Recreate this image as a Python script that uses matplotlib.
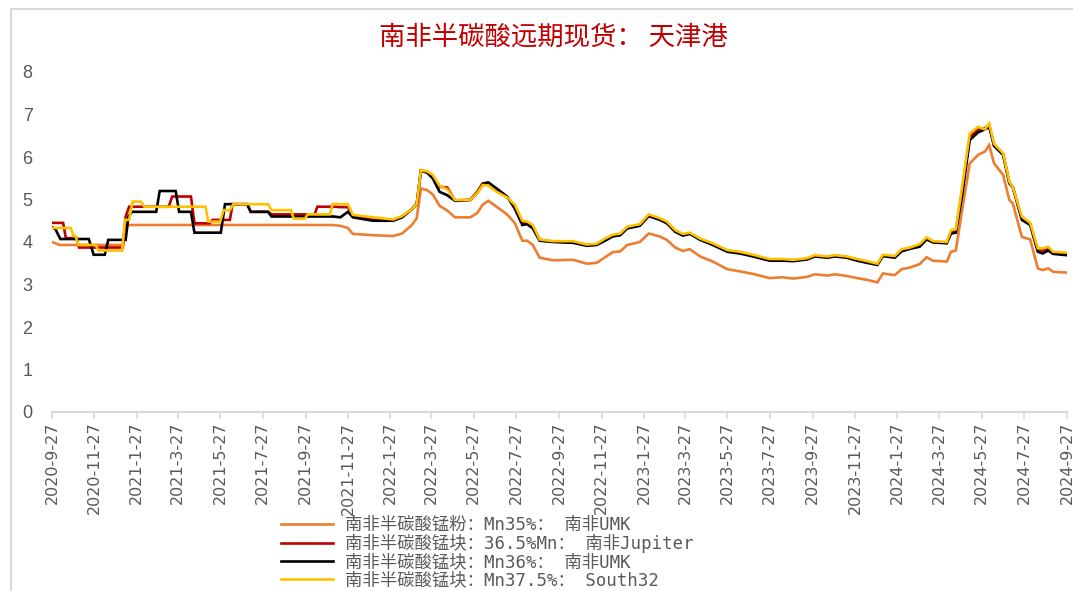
import matplotlib
matplotlib.use("Agg")
import matplotlib.pyplot as plt
from matplotlib.patches import Rectangle
from matplotlib.lines import Line2D
import pandas as pd

plt.rcParams['font.family'] = ['Noto Sans CJK SC', 'DejaVu Sans']

title = "南非半碳酸远期现货： 天津港"
labels = ["南非半碳酸锰粉：Mn35%： 南非UMK",
          "南非半碳酸锰块：36.5%Mn： 南非Jupiter",
          "南非半碳酸锰块：Mn36%： 南非UMK",
          "南非半碳酸锰块：Mn37.5%： South32"]
colors = ["#ED7D31", "#C00000", "#000000", "#FFC000"]

# step-like early period, each series has its own change dates
powder_umk_early_dates = ["2020-09-27", "2020-10-08", "2021-01-07", "2021-01-14", "2021-11-05"]
powder_umk_early = [4.00, 3.93, 3.93, 4.40, 4.40]

jupiter_early_dates = ["2020-09-27", "2020-10-13", "2020-10-17", "2020-11-01", "2020-11-05",
                       "2021-01-07", "2021-01-11", "2021-01-16", "2021-03-14", "2021-03-19",
                       "2021-04-15", "2021-04-20", "2021-05-12", "2021-05-16", "2021-06-10",
                       "2021-06-14", "2021-07-05", "2021-07-10", "2021-08-04", "2021-08-09",
                       "2021-10-10", "2021-10-14", "2021-11-10"]
jupiter_early = [4.45, 4.45, 4.09, 4.09, 3.87,
                 3.87, 4.60, 4.83, 4.83, 5.07,
                 5.07, 4.44, 4.44, 4.52, 4.52,
                 4.89, 4.89, 4.71, 4.71, 4.65,
                 4.65, 4.83, 4.83]

lump_umk_early_dates = ["2020-09-27", "2020-10-02", "2020-10-09", "2020-11-19", "2020-11-26",
                        "2020-12-12", "2020-12-17", "2021-01-11", "2021-01-15", "2021-01-20",
                        "2021-02-24", "2021-03-01", "2021-03-24", "2021-03-29", "2021-04-15",
                        "2021-04-20", "2021-05-28", "2021-06-03", "2021-07-05", "2021-07-10",
                        "2021-08-04", "2021-08-09", "2021-11-06"]
lump_umk_early = [4.35, 4.30, 4.07, 4.07, 3.70,
                  3.70, 4.05, 4.05, 4.60, 4.71,
                  4.71, 5.20, 5.20, 4.71, 4.71,
                  4.22, 4.22, 4.89, 4.89, 4.71,
                  4.71, 4.60, 4.60]

south32_early_dates = ["2020-09-27", "2020-10-24", "2020-10-28", "2020-10-31", "2020-11-04",
                       "2020-11-29", "2020-12-03", "2021-01-06", "2021-01-10", "2021-01-16",
                       "2021-01-21", "2021-02-02", "2021-02-07", "2021-05-06", "2021-05-10",
                       "2021-05-27", "2021-06-01", "2021-06-10", "2021-06-15", "2021-08-04",
                       "2021-08-09", "2021-09-06", "2021-09-10", "2021-09-26", "2021-09-30",
                       "2021-11-01", "2021-11-05"]
south32_early = [4.33, 4.33, 4.14, 4.14, 3.93,
                 3.93, 3.80, 3.80, 4.52, 4.52,
                 4.95, 4.95, 4.83, 4.83, 4.48,
                 4.48, 4.75, 4.75, 4.89, 4.89,
                 4.75, 4.75, 4.55, 4.55, 4.65,
                 4.65, 4.89]

# later period, shared dates
late_dates = ["2021-11-16", "2021-11-27", "2021-12-04", "2022-01-02", "2022-01-31", "2022-02-13", "2022-02-27", "2022-03-06", "2022-03-12", "2022-03-21",
              "2022-03-29", "2022-04-08", "2022-04-19", "2022-04-30", "2022-05-22", "2022-06-01", "2022-06-09", "2022-06-17", "2022-06-29", "2022-07-14",
              "2022-07-25", "2022-08-05", "2022-08-12", "2022-08-20", "2022-08-30", "2022-09-18", "2022-10-17", "2022-11-06", "2022-11-20", "2022-12-02",
              "2022-12-13", "2022-12-24", "2023-01-03", "2023-01-21", "2023-02-03", "2023-02-19", "2023-03-01", "2023-03-13", "2023-03-24", "2023-04-03",
              "2023-04-18", "2023-05-06", "2023-05-27", "2023-06-14", "2023-07-03", "2023-07-27", "2023-08-14", "2023-08-30", "2023-09-19", "2023-09-30",
              "2023-10-18", "2023-10-29", "2023-11-15", "2023-11-30", "2023-12-14", "2023-12-29", "2024-01-06", "2024-01-23", "2024-02-02", "2024-02-14",
              "2024-02-28", "2024-03-09", "2024-03-18", "2024-04-07", "2024-04-13", "2024-04-20", "2024-04-29", "2024-05-10", "2024-05-22", "2024-06-01",
              "2024-06-07", "2024-06-14", "2024-06-27", "2024-07-06", "2024-07-11", "2024-07-24", "2024-08-05", "2024-08-16", "2024-08-23", "2024-08-31",
              "2024-09-07", "2024-09-27"]

powder_umk_late = [4.38, 4.33, 4.19, 4.16, 4.14, 4.20, 4.40, 4.56, 5.26, 5.22,
                   5.12, 4.85, 4.74, 4.58, 4.58, 4.68, 4.88, 4.97, 4.83, 4.65,
                   4.45, 4.03, 4.03, 3.93, 3.63, 3.57, 3.58, 3.49, 3.51, 3.64,
                   3.76, 3.78, 3.93, 4.00, 4.20, 4.13, 4.05, 3.87, 3.79, 3.83,
                   3.66, 3.54, 3.36, 3.31, 3.25, 3.15, 3.17, 3.14, 3.18, 3.24,
                   3.21, 3.24, 3.20, 3.15, 3.11, 3.05, 3.26, 3.22, 3.36, 3.40,
                   3.48, 3.64, 3.56, 3.54, 3.77, 3.80, 4.75, 5.85, 6.05, 6.13,
                   6.28, 5.85, 5.58, 4.99, 4.91, 4.12, 4.06, 3.38, 3.34, 3.38,
                   3.30, 3.28]

jupiter_late = [4.82, 4.82, 4.62, 4.55, 4.52, 4.60, 4.77, 4.89, 5.68, 5.65,
                5.55, 5.30, 5.28, 4.98, 4.99, 5.18, 5.38, 5.40, 5.22, 5.06,
                4.84, 4.45, 4.45, 4.36, 4.05, 4.01, 4.00, 3.93, 3.95, 4.06,
                4.15, 4.18, 4.34, 4.40, 4.63, 4.54, 4.46, 4.26, 4.17, 4.20,
                4.07, 3.95, 3.79, 3.75, 3.68, 3.58, 3.58, 3.57, 3.60, 3.67,
                3.65, 3.68, 3.65, 3.58, 3.53, 3.48, 3.68, 3.65, 3.80, 3.86,
                3.92, 4.08, 4.00, 3.98, 4.24, 4.26, 5.20, 6.48, 6.65, 6.68,
                6.75, 6.28, 6.07, 5.40, 5.29, 4.56, 4.42, 3.80, 3.80, 3.83,
                3.75, 3.72]

lump_umk_late = [4.58, 4.71, 4.58, 4.50, 4.50, 4.58, 4.77, 4.89, 5.68, 5.63,
                 5.50, 5.18, 5.10, 4.97, 4.99, 5.15, 5.36, 5.40, 5.26, 5.07,
                 4.79, 4.40, 4.42, 4.32, 4.03, 4.00, 3.98, 3.91, 3.93, 4.03,
                 4.13, 4.16, 4.32, 4.38, 4.61, 4.52, 4.44, 4.24, 4.15, 4.19,
                 4.05, 3.93, 3.77, 3.73, 3.66, 3.56, 3.56, 3.55, 3.59, 3.66,
                 3.63, 3.66, 3.63, 3.56, 3.51, 3.46, 3.67, 3.63, 3.78, 3.84,
                 3.89, 4.06, 3.99, 3.97, 4.20, 4.22, 5.10, 6.40, 6.58, 6.65,
                 6.71, 6.26, 6.05, 5.38, 5.29, 4.52, 4.40, 3.77, 3.73, 3.80,
                 3.72, 3.69]

south32_late = [4.89, 4.89, 4.64, 4.58, 4.53, 4.61, 4.77, 4.89, 5.69, 5.66,
                5.58, 5.32, 5.24, 4.99, 4.99, 5.15, 5.34, 5.33, 5.18, 5.05,
                4.88, 4.50, 4.48, 4.40, 4.06, 4.02, 4.02, 3.94, 3.96, 4.08,
                4.17, 4.20, 4.36, 4.42, 4.65, 4.56, 4.48, 4.28, 4.19, 4.22,
                4.08, 3.97, 3.81, 3.77, 3.70, 3.60, 3.60, 3.58, 3.62, 3.69,
                3.66, 3.69, 3.66, 3.60, 3.55, 3.49, 3.70, 3.67, 3.83, 3.87,
                3.95, 4.11, 4.02, 4.00, 4.28, 4.30, 5.30, 6.55, 6.71, 6.65,
                6.79, 6.31, 6.09, 5.42, 5.29, 4.60, 4.45, 3.85, 3.85, 3.89,
                3.77, 3.75]

series = [
    (powder_umk_early_dates, powder_umk_early, powder_umk_late),
    (jupiter_early_dates, jupiter_early, jupiter_late),
    (lump_umk_early_dates, lump_umk_early, lump_umk_late),
    (south32_early_dates, south32_early, south32_late),
]

tick_dates = pd.date_range("2020-09-27", periods=25, freq=pd.DateOffset(months=2))
tick_labels = [f"{d.year}-{d.month}-{d.day}" for d in tick_dates]

fig = plt.figure(figsize=(10.73, 5.91), dpi=100)
ax = fig.add_axes([52/1073, 1-412/591, 1015/1073, 340/591])

handles = []
for (ed, ev, lv), c, lab in zip(series, colors, labels):
    x = pd.to_datetime(ed + late_dates)
    y = ev + lv
    ax.plot(x, y, color=c, lw=1.9, solid_joinstyle='miter')
    handles.append(Line2D([], [], color=c, lw=1.9))

ax.set_xlim(pd.Timestamp("2020-09-27"), pd.Timestamp("2024-09-27"))
ax.set_ylim(0, 8)
ax.set_yticks(range(0, 9))
ax.set_xticks(tick_dates)
ax.set_xticklabels(tick_labels, rotation=90, fontsize=11.5, color="#595959",
                   family=['Liberation Sans Narrow', 'DejaVu Sans'])
for t in ax.get_yticklabels():
    t.set_fontsize(13)
    t.set_color("#595959")
    t.set_family(['Liberation Sans', 'DejaVu Sans'])

for s in ['left', 'top', 'right']:
    ax.spines[s].set_visible(False)
ax.spines['bottom'].set_color("#D9D9D9")
ax.spines['bottom'].set_linewidth(1.5)
ax.tick_params(axis='x', length=5, width=1.2, color="#D9D9D9", pad=2)
ax.tick_params(axis='y', length=0, pad=14)

fig.text(553/1073, 1-37/591, title, ha='center', va='center', color="#C00000", fontsize=19)

fig.legend(handles, labels, loc='upper left', bbox_to_anchor=(281/1073, 1-516/591),
           frameon=False, handlelength=3.0, handletextpad=0.7, labelspacing=0.0,
           borderpad=0, borderaxespad=0, labelcolor="#595959",
           prop={'family': ['DejaVu Sans Mono', 'Noto Sans CJK SC'], 'size': 12.5})

fig.patches.append(Rectangle((11/1073, -1), 2, 2 - 9/591, transform=fig.transFigure,
                             fill=False, edgecolor="#D9D9D9", lw=1.5))

fig.savefig("out.png", dpi=100)
